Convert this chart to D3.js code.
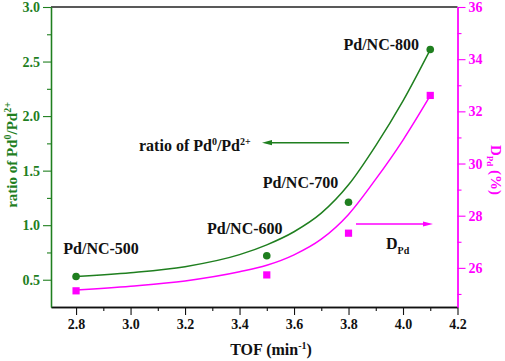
<!DOCTYPE html>
<html>
<head>
<meta charset="utf-8">
<script src="https://cdn.jsdelivr.net/npm/d3@7"></script>
<style>
  body { margin: 0; background: #fff; }
  svg { display: block; font-family: "Liberation Serif", "Times New Roman", serif; font-weight: bold; }
  svg text { font-family: "Liberation Serif", "Times New Roman", serif !important; font-weight: bold; }
</style>
</head>
<body>
<div id="chart"></div>
<script>
// Measured points
const samples = ["Pd/NC-500", "Pd/NC-600", "Pd/NC-700", "Pd/NC-800"];
const tof = [2.8, 3.5, 3.8, 4.1];
const ratio = [0.53, 0.72, 1.21, 2.61];
const dispersion = [25.12, 25.73, 27.33, 32.61];

// Fitted curves
const fitTof = [2.8, 3.0, 3.2, 3.4, 3.5, 3.6, 3.7, 3.8, 3.9, 4.0, 4.1];
const ratioFit = [0.53, 0.565, 0.62, 0.73, 0.82, 0.94, 1.11, 1.37, 1.73, 2.14, 2.61];
const dispersionFit = [25.15, 25.3, 25.5, 25.85, 26.1, 26.5, 27.1, 28.05, 29.4, 30.9, 32.6];

// Tick values
const xTicks = [2.8, 3.0, 3.2, 3.4, 3.6, 3.8, 4.0, 4.2];
const xMinor = [2.9, 3.1, 3.3, 3.5, 3.7, 3.9, 4.1];
const yTicks = [0.5, 1.0, 1.5, 2.0, 2.5, 3.0];
const yMinor = [0.75, 1.25, 1.75, 2.25, 2.75];
const y2Ticks = [26, 28, 30, 32, 34, 36];
const y2Minor = [25, 27, 29, 31, 33, 35];

const green = "#1f7f1f";
const magenta = "#ff00ff";

const W = 505, H = 361;
const m = { left: 51, right: 457.5, top: 7, bottom: 307 };

const svg = d3.select("#chart").append("svg")
  .attr("width", W)
  .attr("height", H);

const x = d3.scaleLinear().domain([2.708, 4.2]).range([m.left, m.right]);
const y = d3.scaleLinear().domain([0.25, 3.0]).range([m.bottom, m.top]);
const y2 = d3.scaleLinear().domain([24.5, 36]).range([m.bottom, m.top]);

// top frame line
svg.append("line")
  .attr("x1", m.left).attr("x2", m.right)
  .attr("y1", m.top).attr("y2", m.top)
  .attr("stroke", "#222").attr("stroke-width", 1.3);

function drawAxis(axisFn, scale, pos, minor, major, fmt, color) {
  const t = axisFn === d3.axisBottom ? `translate(0,${pos})` : `translate(${pos},0)`;
  const gMinor = svg.append("g").attr("transform", t)
    .call(axisFn(scale).tickValues(minor).tickSize(4).tickFormat("").tickSizeOuter(0));
  const gMajor = svg.append("g").attr("transform", t)
    .call(axisFn(scale).tickValues(major).tickSize(8).tickFormat(fmt).tickSizeOuter(0));
  [gMinor, gMajor].forEach(g => {
    g.selectAll(".domain").attr("stroke", color).attr("stroke-width", 1.3);
    g.selectAll(".tick line").attr("stroke", color).attr("stroke-width", 1.1);
  });
  gMajor.attr("font-size", 14);
  gMajor.selectAll(".tick text").attr("fill", color);
  return gMajor;
}

const gx = drawAxis(d3.axisBottom, x, m.bottom, xMinor, xTicks, d3.format(".1f"), "#111");
const gy = drawAxis(d3.axisLeft, y, m.left, yMinor, yTicks, d3.format(".1f"), green);
const gy2 = drawAxis(d3.axisRight, y2, m.right, y2Minor, y2Ticks, d3.format("d"), magenta);
gx.selectAll(".tick text").attr("y", 12);
gy.selectAll(".tick text").attr("x", -11);
gy2.selectAll(".tick text").attr("x", 11);

// fitted curves
const fitRatio = fitTof.map((t, i) => ({ t, v: ratioFit[i] }));
const fitDisp = fitTof.map((t, i) => ({ t, v: dispersionFit[i] }));

svg.append("path")
  .datum(fitRatio)
  .attr("fill", "none")
  .attr("stroke", green)
  .attr("stroke-width", 1.5)
  .attr("d", d3.line().x(d => x(d.t)).y(d => y(d.v)).curve(d3.curveMonotoneX));

svg.append("path")
  .datum(fitDisp)
  .attr("fill", "none")
  .attr("stroke", magenta)
  .attr("stroke-width", 1.5)
  .attr("d", d3.line().x(d => x(d.t)).y(d => y2(d.v)).curve(d3.curveMonotoneX));

// points
const pts = tof.map((t, i) => ({ t, r: ratio[i], d: dispersion[i], name: samples[i] }));

svg.selectAll(".dot")
  .data(pts)
  .enter()
  .append("circle")
  .attr("class", "dot")
  .attr("cx", d => x(d.t))
  .attr("cy", d => y(d.r))
  .attr("r", 3.8)
  .attr("fill", green);

svg.selectAll(".sq")
  .data(pts)
  .enter()
  .append("rect")
  .attr("class", "sq")
  .attr("x", d => x(d.t) - 3.6)
  .attr("y", d => y2(d.d) - 3.6)
  .attr("width", 7.2)
  .attr("height", 7.2)
  .attr("fill", magenta);

// sample labels
const labelOffsets = [
  { dx: 25, dy: -22 },
  { dx: -22, dy: -22 },
  { dx: -48, dy: -14 },
  { dx: -49, dy: 0 }
];
svg.selectAll(".lbl")
  .data(pts)
  .enter()
  .append("text")
  .attr("class", "lbl")
  .attr("x", (d, i) => x(d.t) + labelOffsets[i].dx)
  .attr("y", (d, i) => y(d.r) + labelOffsets[i].dy)
  .attr("text-anchor", "middle")
  .attr("font-size", 16)
  .attr("fill", "#111")
  .text(d => d.name);

// annotations with arrows
const ann = svg.append("text")
  .attr("x", 139).attr("y", 151)
  .attr("font-size", 16).attr("fill", "#111");
ann.append("tspan").text("ratio of Pd");
ann.append("tspan").attr("dy", -6).attr("font-size", 10).text("0");
ann.append("tspan").attr("dy", 6).text("/Pd");
ann.append("tspan").attr("dy", -6).attr("font-size", 10).text("2+");

function arrow(x1, x2, yy, color) {
  const dir = x2 > x1 ? 1 : -1;
  svg.append("line")
    .attr("x1", x1).attr("x2", x2 - dir * 6)
    .attr("y1", yy).attr("y2", yy)
    .attr("stroke", color).attr("stroke-width", 1.4);
  svg.append("path")
    .attr("d", `M${x2},${yy} L${x2 - dir * 10},${yy - 2.6} L${x2 - dir * 10},${yy + 2.6} Z`)
    .attr("fill", color);
}
arrow(349, 262, 142.7, green);
arrow(356, 433, 224, magenta);

const dpd = svg.append("text")
  .attr("x", 386).attr("y", 249)
  .attr("font-size", 16).attr("fill", "#111");
dpd.append("tspan").text("D");
dpd.append("tspan").attr("dy", 5).attr("font-size", 10).text("Pd");

// axis titles
const xt = svg.append("text")
  .attr("x", 271).attr("y", 355)
  .attr("text-anchor", "middle")
  .attr("font-size", 16).attr("fill", "#111");
xt.append("tspan").text("TOF (min");
xt.append("tspan").attr("dy", -6).attr("font-size", 10).text("-1");
xt.append("tspan").attr("dy", 6).text(")");

const yt = svg.append("text")
  .attr("transform", "translate(17,155) rotate(-90)")
  .attr("text-anchor", "middle")
  .attr("font-size", 15).attr("fill", green);
yt.append("tspan").text("ratio of Pd");
yt.append("tspan").attr("dy", -6).attr("font-size", 10).text("0");
yt.append("tspan").attr("dy", 6).text("/Pd");
yt.append("tspan").attr("dy", -6).attr("font-size", 10).text("2+");

const y2t = svg.append("text")
  .attr("transform", "translate(491,170) rotate(90)")
  .attr("text-anchor", "middle")
  .attr("font-size", 15).attr("fill", magenta);
y2t.append("tspan").text("D");
y2t.append("tspan").attr("dy", 4).attr("font-size", 9).text("Pd");
y2t.append("tspan").attr("dy", -4).text(" (%)");
</script>
</body>
</html>
